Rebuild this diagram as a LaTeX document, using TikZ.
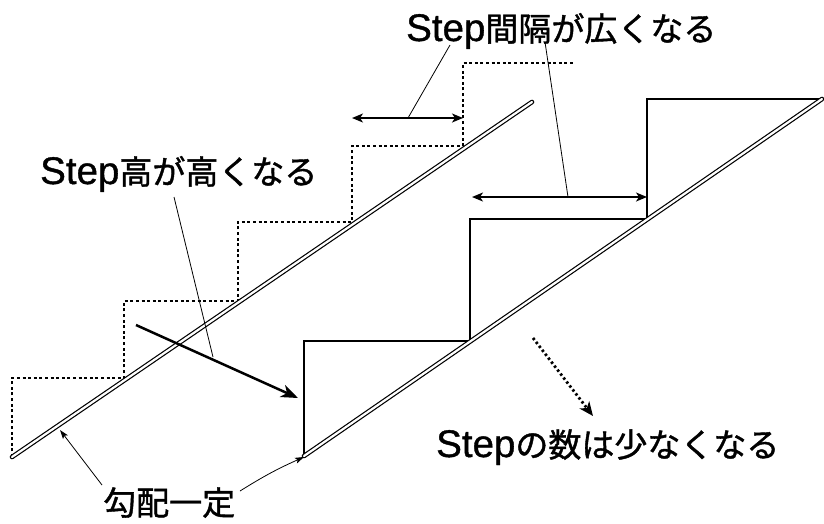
\documentclass[tikz,border=0pt]{standalone}
\usepackage{fontspec}
\newfontfamily\jpfont{Noto Sans CJK JP}[FakeBold=1.2]
\newfontfamily\latfont{Liberation Sans}[FakeBold=1.0]
\newcommand{\stp}{{\latfont\fontsize{38.5}{40}\selectfont Step}}
\usetikzlibrary{arrows.meta}
\tikzset{
  slope/.style={line width=1.2pt, double=white, double distance=2.2pt, line cap=round},
  oldstair/.style={line width=1.3pt, dash pattern=on 3pt off 2.6pt},
  newstair/.style={line width=1.2pt},
  dimarrow/.style={line width=1.7pt, {Stealth[length=11pt,width=9pt,inset=3pt]}-{Stealth[length=11pt,width=9pt,inset=3pt]}},
  bigarrow/.style={line width=2.5pt, -{Stealth[length=17pt,width=13pt,inset=5pt]}},
  dotarrow/.style={line width=2.8pt, dash pattern=on 2.4pt off 2.6pt, -{Stealth[length=14pt,width=12pt,inset=4pt]}},
  leader/.style={line width=0.8pt},
  leadarrow/.style={line width=0.8pt, -{Stealth[length=9pt,width=6pt,inset=2pt]}},
  lbl/.style={font=\jpfont\fontsize{33}{36}\selectfont, inner sep=0pt, anchor=base west}
}
\begin{document}
\begin{tikzpicture}[x=1pt,y=-1pt]
\useasboundingbox[fill=white] (0,0) rectangle (824,523);
% labels
\node[lbl] (t1) at (406,41) {\stp 間隔が広くなる};
\node[lbl] (t2) at (40,184) {\stp 高が高くなる};
\node[lbl] (t3) at (436,457) {\stp の数は少なくなる};
\node[lbl] (t4) at (103,515) {勾配一定};
% coordinates
\coordinate (La) at (12,457);
\coordinate (Lb) at (532,102);
\coordinate (Ra) at (304,456);
\coordinate (Rb) at (822,99);
% old stair (dashed)
\draw[oldstair] (La) -- (12,378) -- (124,378) -- (124,301) -- (238,301) -- (238,222) -- (352,222) -- (352,146) -- (463,146) -- (463,63) -- (575,63);
% new stair (solid)
\draw[newstair] (Ra) -- (304,341) -- (470,341) -- (470,219) -- (647,219) -- (647,99) -- (Rb);
% slopes
\draw[slope] (La) -- (Lb);
\draw[slope] (Ra) -- (Rb);
% dimension arrows
\coordinate (d1a) at (352,118);
\coordinate (d1b) at (463,118);
\coordinate (d2a) at (472,197);
\coordinate (d2b) at (647,197);
\draw[dimarrow] (d1a) -- (d1b);
\draw[dimarrow] (d2a) -- (d2b);
% big arrow
\coordinate (ba) at (136,325);
\coordinate (bb) at (298,398);
\draw[bigarrow] (ba) -- (bb);
% dotted arrow
\coordinate (da) at (533,338);
\coordinate (db) at (593,416);
\draw[dotarrow] (da) -- (db);
% leaders
\coordinate (l1s) at (450,45);
\coordinate (l1e) at (408,118);
\coordinate (l2s) at (545,42);
\coordinate (l2e) at (568,197);
\coordinate (l3s) at (174,197);
\coordinate (l3e) at (213,357);
\draw[leader] (l1s) -- (l1e);
\draw[leader] (l2s) -- (l2e);
\draw[leader] (l3s) -- (l3e);
\coordinate (g1s) at (102,485);
\coordinate (g1e) at (60,430);
\coordinate (g2s) at (240,491);
\coordinate (g2e) at (304,457);
\draw[leadarrow] (g1s) -- (g1e);
\draw[leadarrow] (g2s) to[bend left=4] (g2e);
\end{tikzpicture}
\end{document}
